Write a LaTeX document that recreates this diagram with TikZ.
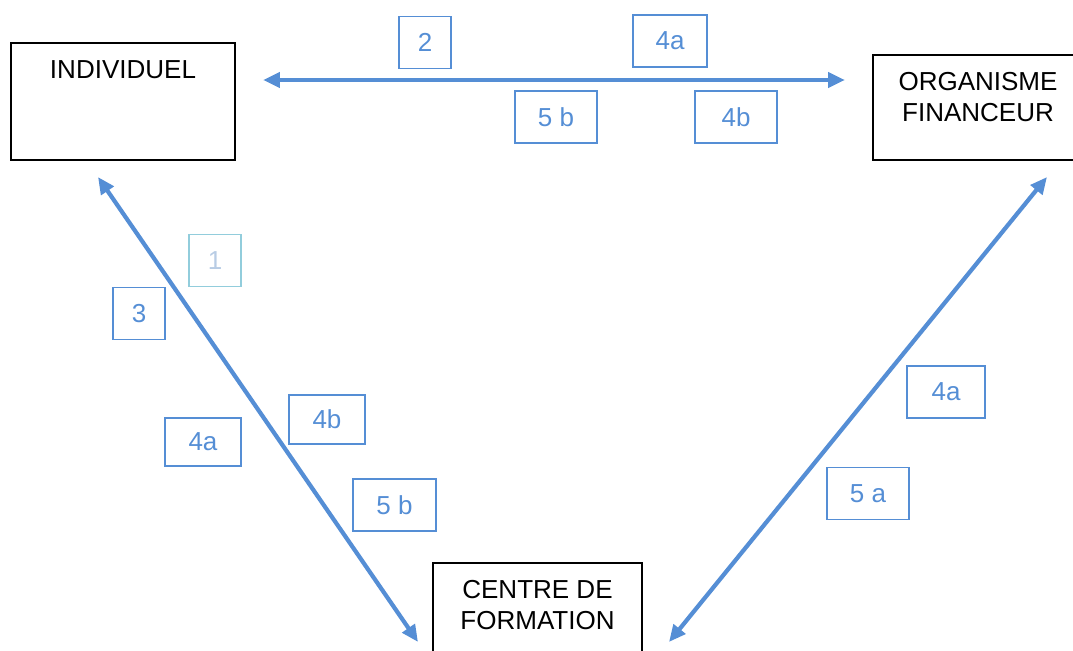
\documentclass[tikz,border=0pt]{standalone}
\usepackage{fontspec}
\setmainfont{Liberation Sans}
\usetikzlibrary{arrows.meta, calc, positioning}
\definecolor{linkblue}{RGB}{85, 142, 213}
\definecolor{paleblue}{RGB}{146, 205, 220}
\definecolor{greyblue}{RGB}{184, 204, 228}

\begin{document}
\begin{tikzpicture}[> = {Triangle[length=12pt,width=10.5pt]}, x=0.025cm, y=-0.025cm,
	font=\fontsize{18.5}{22}\selectfont,
	entity/.style={draw, line width=1.2pt},
	title/.style={anchor=north, inner sep=0pt, align=center, yshift=-13pt},
	tag/.style={draw=linkblue, text=linkblue, line width=1.3pt, minimum height=1.3cm, inner sep=0pt},
	link/.style={<->, linkblue, line width=3pt}]
	\useasboundingbox (0,0) rectangle (1073,651);

	% the three parties
	\node[entity, minimum width=5.6cm, minimum height=2.925cm] (indiv) at (123,101.5) {};
	\node[entity, minimum width=5.25cm, minimum height=2.625cm] (orga) at (978,107.5) {};
	\node[entity, minimum width=5.225cm, minimum height=2.5cm] (centre) at (537.5,613) {};
	\node[title] (indiv-t) at (indiv.north) {INDIVIDUEL};
	\node[title] (orga-t) at (orga.north) {ORGANISME\\FINANCEUR};
	\node[title] (centre-t) at (centre.north) {CENTRE DE\\FORMATION};

	% arrow ends
	\coordinate (i-e) at (263,80);
	\coordinate (o-w) at (845,80);
	\coordinate (i-s) at (98,177);
	\coordinate (c-nw) at (418,642);
	\coordinate (o-s) at (1047,177);
	\coordinate (c-ne) at (669,642);

	\draw[link] (i-e) -- (o-w);
	\draw[link] (i-s) -- (c-nw);
	\draw[link] (o-s) -- (c-ne);

	% steps
	\node[tag, minimum width=1.3cm] (s2) at (425,42.5) {2};
	\node[tag, minimum width=1.85cm] (s4a-top) at (670,41) {4a};
	\node[tag, minimum width=2.05cm] (s5b-top) at (556,117) {5 b};
	\node[tag, minimum width=2.05cm] (s4b-top) at (736,117) {4b};
	\node[tag, minimum width=1.3cm, draw=paleblue, text=greyblue] (s1) at (215,260.5) {1};
	\node[tag, minimum width=1.3cm] (s3) at (139,313.5) {3};
	\node[tag, minimum width=1.9cm, minimum height=1.22cm] (s4b-left) at (327,419.5) {4b};
	\node[tag, minimum width=1.9cm, minimum height=1.22cm] (s4a-left) at (203,442) {4a};
	\node[tag, minimum width=2.075cm] (s5b-left) at (394.5,505) {5 b};
	\node[tag, minimum width=1.95cm] (s4a-right) at (946,392) {4a};
	\node[tag, minimum width=2.05cm] (s5a-right) at (868,493.5) {5 a};
\end{tikzpicture}
\end{document}
